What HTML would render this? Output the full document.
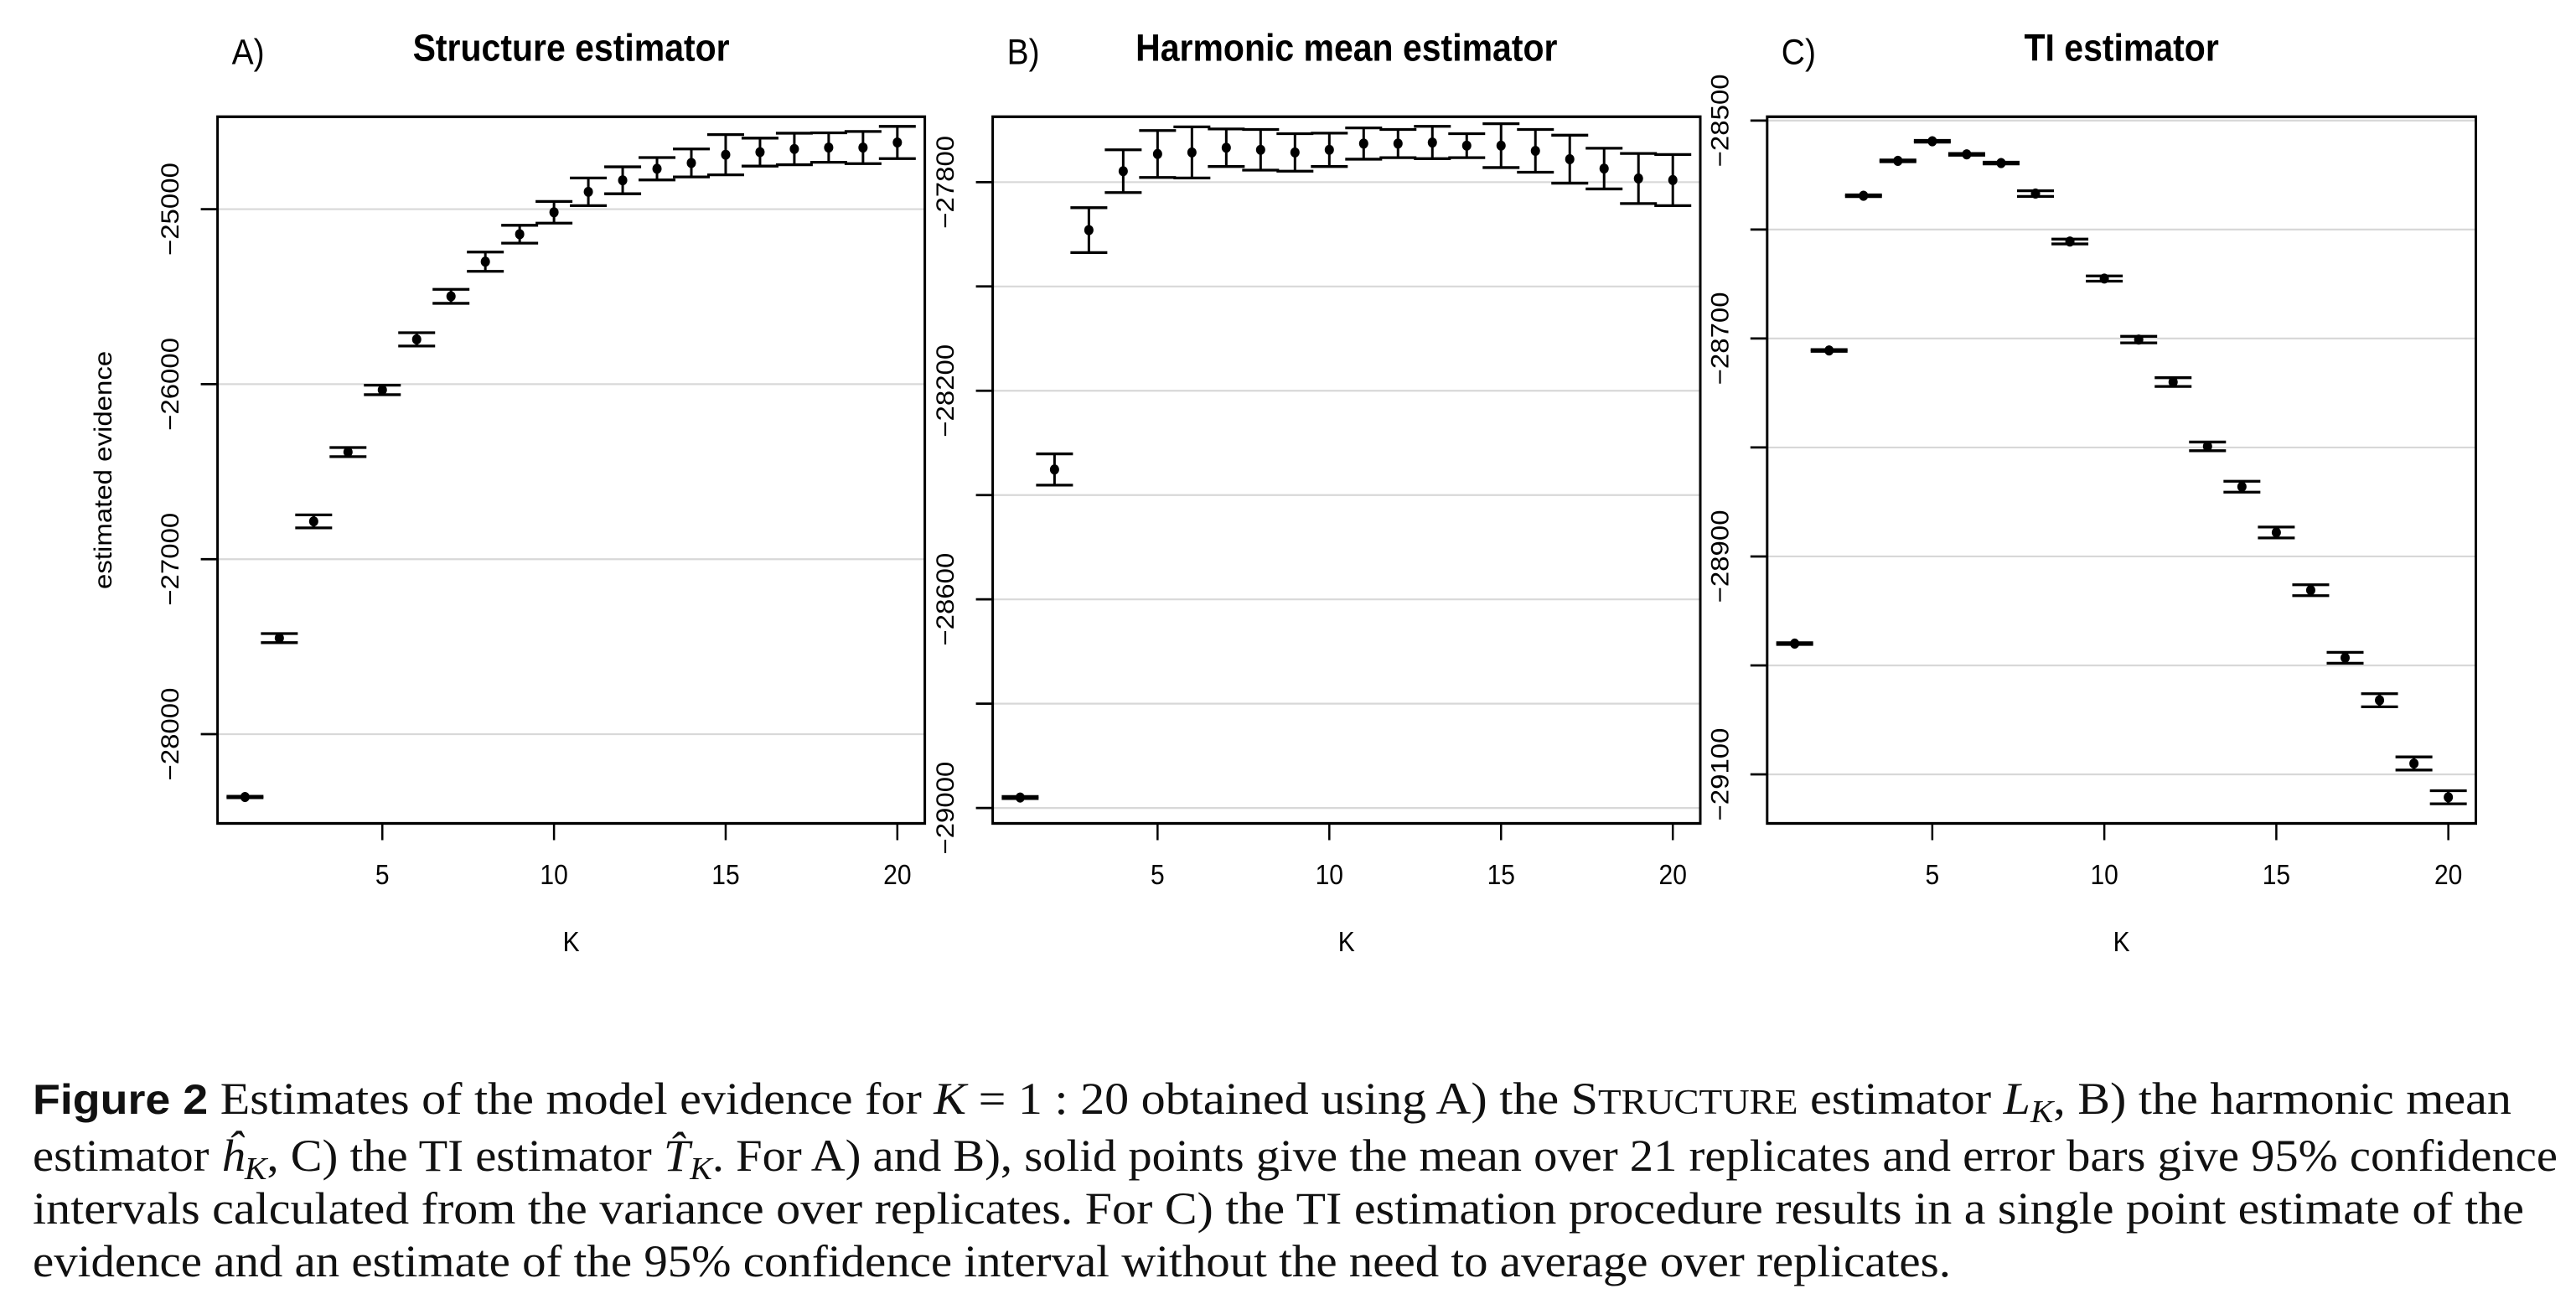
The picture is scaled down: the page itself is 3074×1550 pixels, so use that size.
<!DOCTYPE html>
<html><head><meta charset="utf-8"><style>
html,body{margin:0;padding:0;background:#fff;}
body{width:3074px;height:1550px;position:relative;overflow:hidden;}
svg{position:absolute;left:0;}
</style></head><body>
<svg id="plots" style="top:0" width="3074" height="1200" viewBox="0 0 3074 1090.9" preserveAspectRatio="none" xmlns="http://www.w3.org/2000/svg"></svg>
<svg id="caption" style="top:1200px" width="3074" height="350" xmlns="http://www.w3.org/2000/svg">
<g font-family="'Liberation Serif', serif" font-size="54" fill="#111">
<text x="39" y="129" textLength="2958" lengthAdjust="spacingAndGlyphs"><tspan font-family="'Liberation Sans', sans-serif" font-weight="bold" font-size="50">Figure 2</tspan> Estimates of the model evidence for <tspan font-style="italic">K</tspan> = 1 : 20 obtained using A) the S<tspan font-size="42">TRUCTURE</tspan> estimator <tspan font-style="italic">L</tspan><tspan font-style="italic" font-size="38" dy="10">K</tspan><tspan dy="-10">, B) the harmonic mean</tspan></text>
<text x="39" y="197" textLength="3013" lengthAdjust="spacingAndGlyphs">estimator <tspan font-style="italic">ĥ</tspan><tspan font-style="italic" font-size="38" dy="10">K</tspan><tspan dy="-10">, C) the TI estimator </tspan><tspan font-style="italic">T̂</tspan><tspan font-style="italic" font-size="38" dy="10">K</tspan><tspan dy="-10">. For A) and B), solid points give the mean over 21 replicates and error bars give 95% confidence</tspan></text>
<text x="39" y="260" textLength="2973" lengthAdjust="spacingAndGlyphs">intervals calculated from the variance over replicates. For C) the TI estimation procedure results in a single point estimate of the</text>
<text x="39" y="323" textLength="2289" lengthAdjust="spacingAndGlyphs">evidence and an estimate of the 95% confidence interval without the need to average over replicates.</text>
</g></svg>
<script>
const K=[1,2,3,4,5,6,7,8,9,10,11,12,13,14,15,16,17,18,19,20];
const structMean=[-28359,-27451,-26784,-26388,-26033,-25744,-25498,-25300,-25143,-25018,-24901,-24835,-24769,-24736,-24689,-24674,-24656,-24648,-24648,-24619];
const structErr=[4,26,37,26,27,38,40,55,51,62,79,77,64,80,115,80,90,84,92,92];
const harmMean=[-28980,-28351,-27892,-27779,-27746,-27743,-27734,-27738,-27743,-27738,-27726,-27726,-27724,-27730,-27730,-27740,-27756,-27774,-27793,-27796];
const harmErr=[2,30,43,41,45,49,36,39,36,32,30,27,31,23,42,41,46,39,48,49];
const tiMean=[-28980,-28711,-28569,-28537,-28519,-28531,-28539,-28567,-28611,-28645,-28701,-28740,-28799,-28836,-28878,-28931,-28993,-29032,-29090,-29121];
const tiErr=[0.8,0.8,0.8,0.8,0.8,0.8,0.8,2.6,2.2,2.4,3,4,4,5,5,5,5,6,6,6];
const xTicks=[5,10,15,20];
const structTicks=[-25000,-26000,-27000,-28000];
const structLabels=[-25000,-26000,-27000,-28000];
const harmTicks=[-27800,-28000,-28200,-28400,-28600,-28800,-29000];
const harmLabels=[-27800,-28200,-28600,-29000];
const tiTicks=[-28500,-28600,-28700,-28800,-28900,-29000,-29100];
const tiLabels=[-28500,-28700,-28900,-29100];

const kS=1.1;
const NS='http://www.w3.org/2000/svg';
const svgEl=document.getElementById('plots');
function mk(tag,attrs,parent){const e=document.createElementNS(NS,tag);for(const a in attrs)e.setAttribute(a,attrs[a]);(parent||svgEl).appendChild(e);return e;}
function fmt(v){return (v<0?'\u2212':'')+Math.abs(v);}
const panels=[
 {id:'a',letter:'A)',title:'Structure estimator',left:259.6,right:1103.6,ymin:-28509.8,ymax:-24471.9,mean:structMean,err:structErr,ticks:structTicks,labels:structLabels,ylabel:true},
 {id:'b',letter:'B)',title:'Harmonic mean estimator',left:1184.6,right:2029,ymin:-29029.6,ymax:-27674.6,mean:harmMean,err:harmErr,ticks:harmTicks,labels:harmLabels},
 {id:'c',letter:'C)',title:'TI estimator',left:2108.8,right:2954.5,ymin:-29145,ymax:-28496.5,mean:tiMean,err:tiErr,ticks:tiTicks,labels:tiLabels}
];
const plotTop=139.3,plotBottom=982.5;
panels.forEach(p=>{
 const g=mk('g',{});
 
 
 const xs=v=>p.left+(v-0.2)/(20.6)*(p.right-p.left);
 const ys=v=>(plotBottom-(v-p.ymin)/(p.ymax-p.ymin)*(plotBottom-plotTop))/kS;
 const Y=t=>t/kS;
 p.ticks.forEach(t=>{
  const l=mk('line',{x1:p.left,x2:p.right,y1:ys(t),y2:ys(t),stroke:'#d8d8d8','stroke-width':2},g);
  
  
  const tk=mk('line',{x1:p.left-20,x2:p.left,y1:ys(t),y2:ys(t),stroke:'#000','stroke-width':2.5},g);
  
  
 });
 p.labels.forEach(t=>{
  const cx=p.left-57, cy=ys(t);
  const tx=mk('text',{x:0,y:0,transform:`translate(${cx},${cy}) rotate(-90)`,'text-anchor':'middle','dominant-baseline':'central','font-family':"'Liberation Sans',sans-serif",'font-size':30,fill:'#000'},g);
  
  
  tx.textContent=fmt(t);
 });
 xTicks.forEach(t=>{
  const tk=mk('line',{x1:xs(t),x2:xs(t),y1:Y(plotBottom),y2:Y(plotBottom+20),stroke:'#000','stroke-width':2.5},g);
  
  
  const tx=mk('text',{x:xs(t),y:Y(1055),'text-anchor':'middle','font-family':"'Liberation Sans',sans-serif",'font-size':30,fill:'#000'},g);
  
  
  tx.textContent=t;
 });
 K.forEach((k,i)=>{
  const x=xs(k),m=p.mean[i],e=p.err[i];
  const yl=ys(m-e),yh=ys(m+e);
  const eb=mk('g',{stroke:'#000','stroke-width':3},g);
  
  
  mk('line',{x1:x,x2:x,y1:yl,y2:yh},eb);
  mk('line',{x1:x-22,x2:x+22,y1:yl,y2:yl},eb);
  mk('line',{x1:x-22,x2:x+22,y1:yh,y2:yh},eb);
  const c=mk('circle',{cx:x,cy:ys(m),r:5.5,fill:'#000'},g);
  
  
 });
 const fr=mk('rect',{x:p.left,y:Y(plotTop),width:p.right-p.left,height:Y(plotBottom)-Y(plotTop),fill:'none',stroke:'#000','stroke-width':3},g);
 
 
 const cxm=(p.left+p.right)/2;
 const ti=mk('text',{x:cxm,y:Y(72.7),'text-anchor':'middle','font-family':"'Liberation Sans',sans-serif",'font-weight':'bold','font-size':41,fill:'#000'},g);
 
 
 ti.textContent=p.title;
 const le=mk('text',{x:p.left+17,y:Y(76.5),'font-family':"'Liberation Sans',sans-serif",'font-size':39,fill:'#000'},g);
 
 
 le.textContent=p.letter;
 const kl=mk('text',{x:cxm,y:Y(1135),'text-anchor':'middle','font-family':"'Liberation Sans',sans-serif",'font-size':30,fill:'#000'},g);
 
 
 kl.textContent='K';
 if(p.ylabel){
  const yl=mk('text',{x:0,y:0,transform:`translate(${p.left-137},${Y((plotTop+plotBottom)/2)}) rotate(-90)`,'text-anchor':'middle','dominant-baseline':'central','font-family':"'Liberation Sans',sans-serif",'font-size':30,fill:'#000'},g);
  
  
  yl.textContent='estimated evidence';
 }
});
</script>
</body></html>
